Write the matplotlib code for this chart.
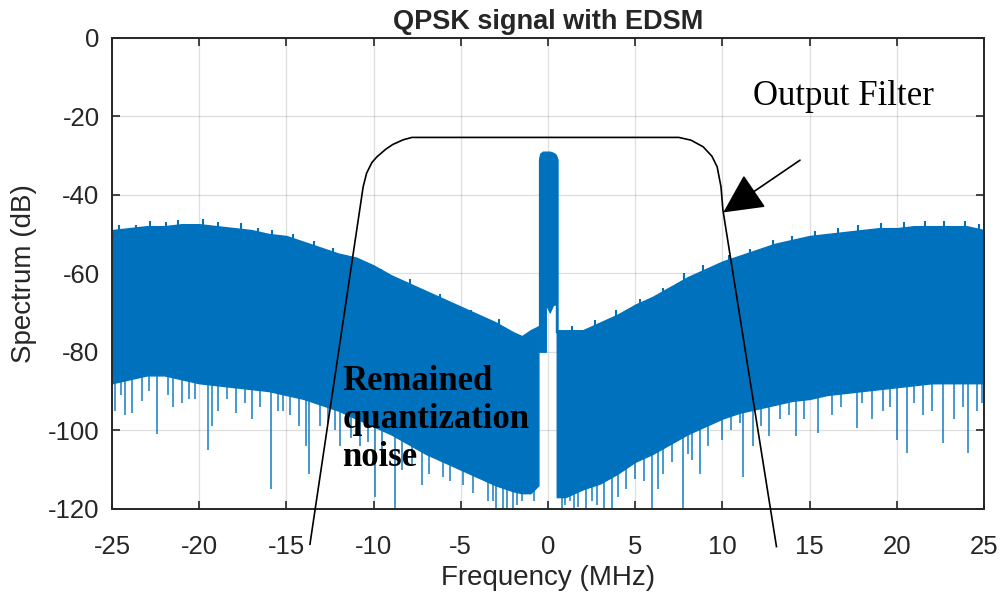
import matplotlib.pyplot as plt
import numpy as np

plt.rcParams['axes.unicode_minus'] = False

# noise floor left of the carrier (MHz / dB)
left_f = [-25, -24, -23, -22, -21, -20, -19, -18, -17, -16, -15, -14, -13, -12,
          -11, -10, -9, -8, -7, -6, -5, -4, -3, -2, -1.5, -1, -0.55]
left_top = [-49, -48.5, -48, -48, -47.5, -47.5, -48, -48.5, -49, -50, -50.5, -52, -53.5, -55,
            -56, -58, -60.5, -62.5, -64.5, -66.5, -68.5, -70.5, -72.5, -75, -76, -74.5, -73.5]
left_bot = [-88, -87, -86, -86, -87, -88, -88.5, -89, -89.5, -90, -91, -92, -93.5, -95,
            -97, -99, -101, -103.5, -106, -108, -110, -112, -114, -115.5, -116, -116, -114]

# noise floor right of the carrier
right_f = [0.5, 1, 2, 3, 4, 5, 6, 7, 8, 9, 10, 11, 12, 13, 14, 15, 16, 17, 18, 19,
           20, 21, 22, 23, 24, 25]
right_top = [-74.5, -74.5, -74.5, -72.5, -70.5, -68, -66, -63.5, -61, -59, -57, -55.5, -54, -52.5,
             -51.5, -50.5, -50, -49.5, -49, -48.5, -48.5, -48, -48, -48, -48, -49]
right_bot = [-117, -117, -115, -113.5, -111, -108, -106, -103.5, -101, -99, -97, -95.5, -94.5, -93.5,
             -92.5, -92, -91, -90.5, -90, -89.5, -89, -88.5, -88, -88, -88, -88]

# QPSK carrier
sig_f = [-0.52, -0.45, -0.3, -0.12, -0.12, 0.1, 0.3, 0.45, 0.45, 0.55]
sig_top = [-31, -29.5, -29, -29, -29, -29, -29.3, -29.8, -29.8, -31]
sig_bot = [-80, -80, -80, -80, -68, -70, -68, -68, -75, -75]

# deep notches of the noise (MHz, dB)
dip_f = [-24.8, -24.5, -24.25, -23.85, -23.3, -22.9, -22.4, -21.8, -21.5, -21.0, -20.6,
         -20.25, -19.5, -19.27, -18.9, -18.4, -17.9, -17.4, -17.0, -16.5, -15.9, -15.5,
         -15.2, -14.8, -14.3, -13.9, -13.7, -13.1, -12.6, -12.2, -11.9, -11.3, -10.8,
         -10.3, -9.9, -9.5, -8.8, -8.4, -7.8, -7.2, -6.8, -6.4, -6.0, -5.6, -4.9, -4.3,
         -3.7, -3.45, -3.15, -3.0, -2.6, -2.35, -2.0, -1.8, -1.5, -1.03, -0.8,
         0.8, 1.0, 1.26, 1.5, 1.7, 2.2, 2.5, 2.8, 3.2, 3.67, 4.0, 4.5, 5.0, 5.5, 5.96,
         6.3, 6.6, 7.1, 7.74, 8.0, 8.25, 8.7, 9.2, 9.98, 10.5, 11.0, 11.2, 11.75, 12.2,
         12.7, 13.3, 13.8, 14.2, 14.7, 15.5, 16.3, 16.8, 17.7, 18.0, 18.6, 19.2, 19.6,
         20.0, 20.6, 21.0, 21.5, 22.0, 22.65, 23.3, 23.8, 24.1, 24.6, 24.9]
dip_db = [-95, -91, -96, -95.5, -92.5, -90, -101, -91, -94, -93, -92,
          -92, -105, -99, -95, -92, -95.5, -93, -97, -94, -115, -95,
          -95, -96, -99, -104, -111, -99, -98, -100, -104, -102, -104,
          -103, -117, -106, -120, -110, -109, -114, -111, -107, -112, -113, -114, -116,
          -111, -118, -118, -120, -120, -120, -120, -119, -118, -113, -118,
          -120, -119, -118, -120, -119.5, -120, -118, -119, -120, -120, -117, -115, -112.5, -113, -120,
          -115, -111, -108, -120, -106, -107.5, -111, -104, -102.5, -100, -98, -112, -104, -99,
          -101.5, -97, -96, -101.5, -97, -100.7, -96, -94, -99.4, -93, -97, -95, -94,
          -102.4, -105.8, -93, -96, -95, -103.2, -97, -94, -105.8, -95, -93]

# small peaks on the top of the noise
peak_f = [-24.6, -23.6, -22.8, -21.9, -21.2, -19.8, -18.9, -17.6, -16.6, -15.8, -14.6,
          -13.4, -12.3, -9.6, -7.9, -6.2, -4.4, -2.8,
          1.4, 2.7, 3.9, 5.3, 6.6, 7.8, 8.9, 10.4, 11.6, 12.9, 14.0, 15.3, 16.6, 17.8,
          19.1, 20.4, 21.6, 22.7, 23.9, 24.7]
peak_db = [-47.8, -47.6, -46.8, -47, -46.5, -46.2, -47, -47.3, -48.5, -49, -50,
           -51.8, -53.5, -58.8, -61.5, -65.3, -69.3, -71.7,
           -73.3, -72, -69.3, -66.5, -63.8, -60, -57.8, -55.3, -53.8, -51.5, -50.5, -49.2,
           -48.5, -47.8, -47.3, -47, -46.8, -46.6, -46.8, -47.5]

# output filter response
filt_f = [-13.65, -10.6, -10.4, -10.1, -9.8, -9.3, -8.9, -8.3, -7.8, 7.5, 8.2, 8.9, 9.4, 9.7, 9.92, 10.03, 13.1]
filt_db = [-129, -38, -34.5, -31.8, -30.3, -28.4, -27.2, -26, -25.4, -25.4, -26.1, -27.8, -30.2, -32.9, -38, -43.9, -129.6]

xticks = [-25, -20, -15, -10, -5, 0, 5, 10, 15, 20, 25]
yticks = [-120, -100, -80, -60, -40, -20, 0]

blue = '#0072BD'
gray = '#262626'

fig = plt.figure(figsize=(10, 5.98), dpi=100)
ax = fig.add_axes([0.112, 0.149, 0.872, 0.788])

ax.fill_between(left_f, left_bot, left_top, color=blue, lw=1.0, zorder=2)
ax.fill_between(right_f, right_bot, right_top, color=blue, lw=1.0, zorder=2)
ax.fill_between(sig_f, sig_bot, sig_top, color=blue, lw=0.8, zorder=2)

# notches hang from the bulk of the noise, peaks stick out of its top
dip_start = np.where(np.array(dip_f) < 0,
                     np.interp(dip_f, left_f, left_bot),
                     np.interp(dip_f, right_f, right_bot)) + 2
ax.vlines(dip_f, dip_db, dip_start, color=blue, alpha=0.85, lw=1.2, zorder=2)
peak_start = np.where(np.array(peak_f) < 0,
                      np.interp(peak_f, left_f, left_top),
                      np.interp(peak_f, right_f, right_top)) - 2
ax.vlines(peak_f, peak_start, peak_db, color=blue, lw=1.5, zorder=2)

ax.plot(filt_f, filt_db, color='k', lw=1.2, clip_on=False, zorder=4)

ax.annotate('', xy=(10.05, -44.5), xytext=(14.45, -31.2),
            arrowprops=dict(arrowstyle='-|>,head_length=0.9,head_width=0.45',
                            mutation_scale=28, lw=1.2, color='k',
                            shrinkA=0, shrinkB=0), zorder=5)
ax.text(11.75, -15, 'Output Filter', family='Liberation Serif', fontsize=25,
        ha='left', va='center', color='k', zorder=5)
ax.text(-11.8, -83.3, 'Remained\nquantization\nnoise', family='Liberation Serif',
        fontsize=25, fontweight='bold', ha='left', va='top', linespacing=1.2,
        color='k', zorder=5)

ax.set_xlim(-25, 25)
ax.set_ylim(-120, 0)
ax.set_xticks(xticks)
ax.set_yticks(yticks)
ax.grid(True, color=gray, alpha=0.15, lw=0.9)
ax.set_axisbelow(True)
ax.tick_params(direction='in', length=6, width=1.2, colors=gray,
               top=True, right=True, labelsize=18.5, pad=9)
ax.tick_params(axis='x', pad=19)
for lab in ax.get_xticklabels() + ax.get_yticklabels():
    lab.set_family('Liberation Sans')
for s in ax.spines.values():
    s.set_color(gray)
    s.set_linewidth(1.4)

ax.set_xlabel('Frequency (MHz)', family='Liberation Sans', fontsize=20, color=gray, labelpad=4)
ax.set_ylabel('Spectrum (dB)', family='Liberation Sans', fontsize=20, color=gray, labelpad=8)
ax.set_title('QPSK signal with EDSM', family='Liberation Sans', fontsize=19.5,
             fontweight='bold', color=gray, pad=6)

fig.savefig('out.png', dpi=100)
